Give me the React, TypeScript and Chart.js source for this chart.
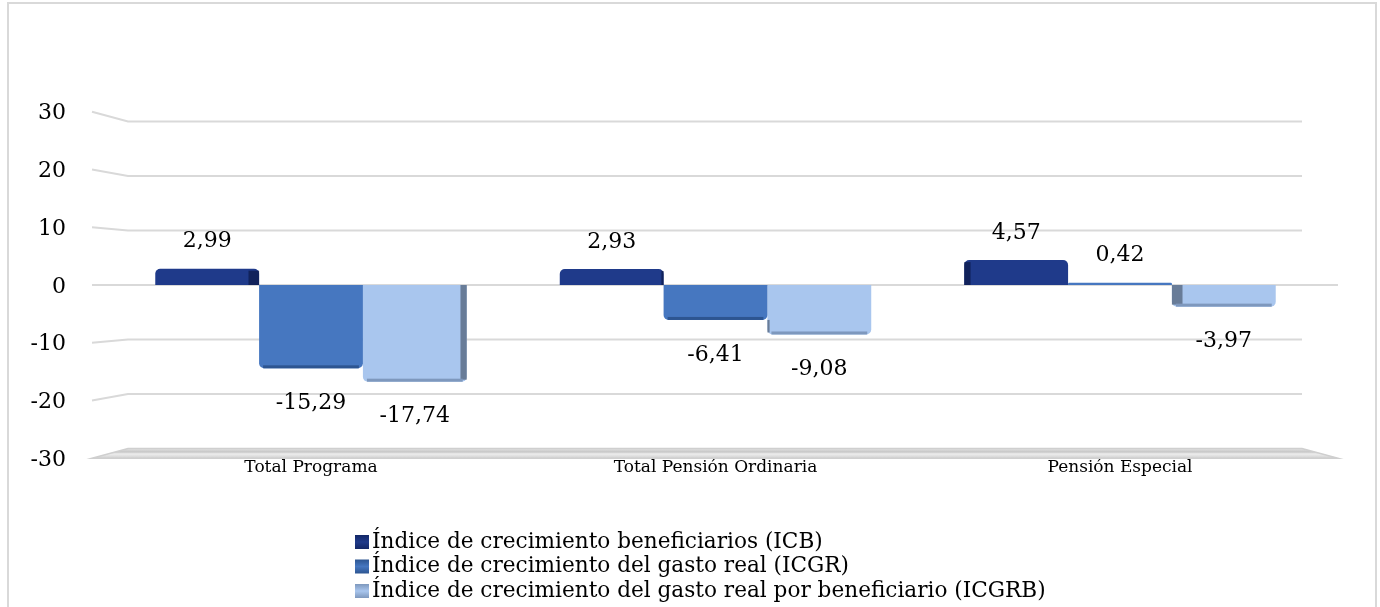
import React, { useEffect, useRef } from "react";
import { Chart, registerables } from "chart.js";

Chart.register(...registerables);

const categories = ["Total Programa", "Total Pensión Ordinaria", "Pensión Especial"];
const seriesLabels = [
  "Índice de crecimiento beneficiarios (ICB)",
  "Índice de crecimiento del gasto real (ICGR)",
  "Índice de crecimiento del gasto real por beneficiario (ICGRB)",
];
const icb = [2.99, 2.93, 4.57];
const icgr = [-15.29, -6.41, 0.42];
const icgrb = [-17.74, -9.08, -3.97];
const yTicks = [30, 20, 10, 0, -10, -20, -30];

const barColors = ["#1f3a8a", "#4677c0", "#a9c6ee"];
const edgeColors = ["#132766", "#2d5591", "#7e98bd"];
const sideColors = ["#0f1e52", "#2a4f86", "#5d6f88"];

const FONT = "'DejaVu Serif', serif";
const fmt = (v: number) => v.toFixed(2).replace(".", ",");

const perspectivePlugin = {
  id: "perspective",
  beforeDatasetsDraw(chart: any) {
    const { ctx, chartArea } = chart;
    const y = chart.scales.y;
    const zeroY = y.getPixelForValue(0);
    const outerL = chartArea.left - 16.75;
    const innerL = chartArea.left + 19.25;
    const innerR = chartArea.right - 20.25;
    const outerR = chartArea.right + 15.75;
    ctx.save();
    yTicks.forEach((v) => {
      const back = y.getPixelForValue(v);
      const front = zeroY + (back - zeroY) * 1.06;
      if (v === yTicks[yTicks.length - 1]) {
        const g = ctx.createLinearGradient(0, back, 0, front);
        g.addColorStop(0, "#e4e4e4");
        g.addColorStop(0.35, "#c6c6c6");
        g.addColorStop(0.55, "#ededed");
        g.addColorStop(1, "#d0d0d0");
        ctx.beginPath();
        ctx.moveTo(outerL, front);
        ctx.lineTo(innerL, back);
        ctx.lineTo(innerR, back);
        ctx.lineTo(outerR, front);
        ctx.closePath();
        ctx.fillStyle = g;
        ctx.fill();
        ctx.strokeStyle = "#cfcfcf";
        ctx.lineWidth = 1.5;
        ctx.stroke();
      } else if (v === 0) {
        ctx.beginPath();
        ctx.moveTo(outerL, back);
        ctx.lineTo(outerR, back);
        ctx.strokeStyle = "#d9d9d9";
        ctx.lineWidth = 2;
        ctx.stroke();
      } else {
        ctx.beginPath();
        ctx.moveTo(outerL, front);
        ctx.lineTo(innerL, back);
        ctx.lineTo(innerR, back);
        ctx.strokeStyle = "#d9d9d9";
        ctx.lineWidth = 2;
        ctx.stroke();
      }
      ctx.fillStyle = "#000";
      ctx.font = `22px ${FONT}`;
      ctx.textAlign = "right";
      ctx.textBaseline = "middle";
      ctx.fillText(String(v), 66, front + 2);
    });
    ctx.restore();
  },
  afterDatasetsDraw(chart: any) {
    const { ctx, chartArea } = chart;
    const yScale = chart.scales.y;
    const midX = (chartArea.left + chartArea.right) / 2;
    const datasets = chart.data.datasets;
    ctx.save();
    datasets.forEach((ds: any, di: number) => {
      const meta = chart.getDatasetMeta(di);
      meta.data.forEach((bar: any, i: number) => {
        const v = ds.data[i];
        const { x, y: yy, base, width } = bar.getProps(["x", "y", "base", "width"], true);
        const h = Math.abs(base - yy);
        // side face from perspective
        const onRight = x < midX;
        const nIdx = onRight ? di + 1 : di - 1;
        const nv = nIdx >= 0 && nIdx < datasets.length ? datasets[nIdx].data[i] : null;
        let from = 0;
        let visible = true;
        if (nv !== null && Math.sign(nv) === Math.sign(v)) {
          if (Math.abs(nv) >= Math.abs(v)) visible = false;
          else from = nv;
        }
        const w = Math.min(11, Math.abs(x - midX) / 48);
        if (visible && w > 1 && h > 2) {
          const p0 = yScale.getPixelForValue(from);
          const top = Math.min(p0, yy);
          const hh = Math.abs(p0 - yy);
          const sx = onRight ? x + width / 2 - w : x - width / 2;
          ctx.fillStyle = sideColors[di];
          ctx.globalAlpha = 0.85;
          ctx.fillRect(sx, top + (v >= 0 ? 2 : 0), w, hh - 2);
          ctx.globalAlpha = 1;
        }
        // darker rim at negative bar end
        if (v < 0) {
          const rim = Math.min(3, h);
          ctx.fillStyle = edgeColors[di];
          ctx.fillRect(x - width / 2 + 4, yy - rim, width - 8, rim);
        }
        ctx.fillStyle = "#000";
        ctx.font = `22px ${FONT}`;
        ctx.textAlign = "center";
        ctx.textBaseline = "middle";
        const ly = v >= 0 ? yy - 27 : yy + 35;
        ctx.fillText(fmt(v), x, ly);
      });
    });
    ctx.restore();
  },
  afterDraw(chart: any) {
    const { ctx } = chart;
    ctx.save();
    const rows = [542, 566.5, 591];
    chart.data.datasets.forEach((ds: any, di: number) => {
      const cy = rows[di];
      const g = ctx.createLinearGradient(0, cy - 7, 0, cy + 7);
      g.addColorStop(0, edgeColors[di]);
      g.addColorStop(0.5, barColors[di]);
      g.addColorStop(1, edgeColors[di]);
      ctx.fillStyle = g;
      ctx.fillRect(355, cy - 7, 14, 14);
      ctx.fillStyle = "#000";
      ctx.font = `21.6px ${FONT}`;
      ctx.textAlign = "left";
      ctx.textBaseline = "middle";
      ctx.fillText(ds.label, 372, cy);
    });
    ctx.restore();
  },
};

export default function App() {
  const ref = useRef<HTMLCanvasElement>(null);
  useEffect(() => {
    if (!ref.current) return;
    const chart = new Chart(ref.current, {
      type: "bar",
      data: {
        labels: categories,
        datasets: [icb, icgr, icgrb].map((d, i) => ({
          label: seriesLabels[i],
          data: d,
          backgroundColor: barColors[i],
          borderWidth: 0,
          borderRadius: 5,
          borderSkipped: "start" as const,
          barPercentage: 1,
          categoryPercentage: 0.77,
        })),
      },
      options: {
        responsive: false,
        animation: false,
        layout: { padding: { left: 108.75, right: 57.75, top: 121.5, bottom: 118.5 } },
        plugins: { legend: { display: false }, tooltip: { enabled: false } },
        scales: {
          x: {
            grid: { display: false, drawTicks: false },
            border: { display: false },
            ticks: { color: "#000", font: { family: FONT, size: 17 }, padding: 9 },
            afterFit: (s: any) => {
              s.height = 40;
            },
          },
          y: {
            min: -30,
            max: 30,
            ticks: { display: false, stepSize: 10 },
            grid: { display: false, drawTicks: false },
            border: { display: false },
            afterFit: (s: any) => {
              s.width = 0;
            },
          },
        },
      },
      plugins: [perspectivePlugin],
    });
    return () => chart.destroy();
  }, []);
  return (
    <div style={{ position: "fixed", left: 0, top: 0, width: 1380, height: 607, background: "#fff", overflow: "hidden" }}>
      <div
        style={{
          position: "absolute",
          left: 7,
          top: 2,
          width: 1366,
          height: 700,
          border: "2px solid #d9d9d9",
        }}
      />
      <canvas ref={ref} width={1380} height={607} style={{ position: "absolute", left: 0, top: 0 }} />
    </div>
  );
}
